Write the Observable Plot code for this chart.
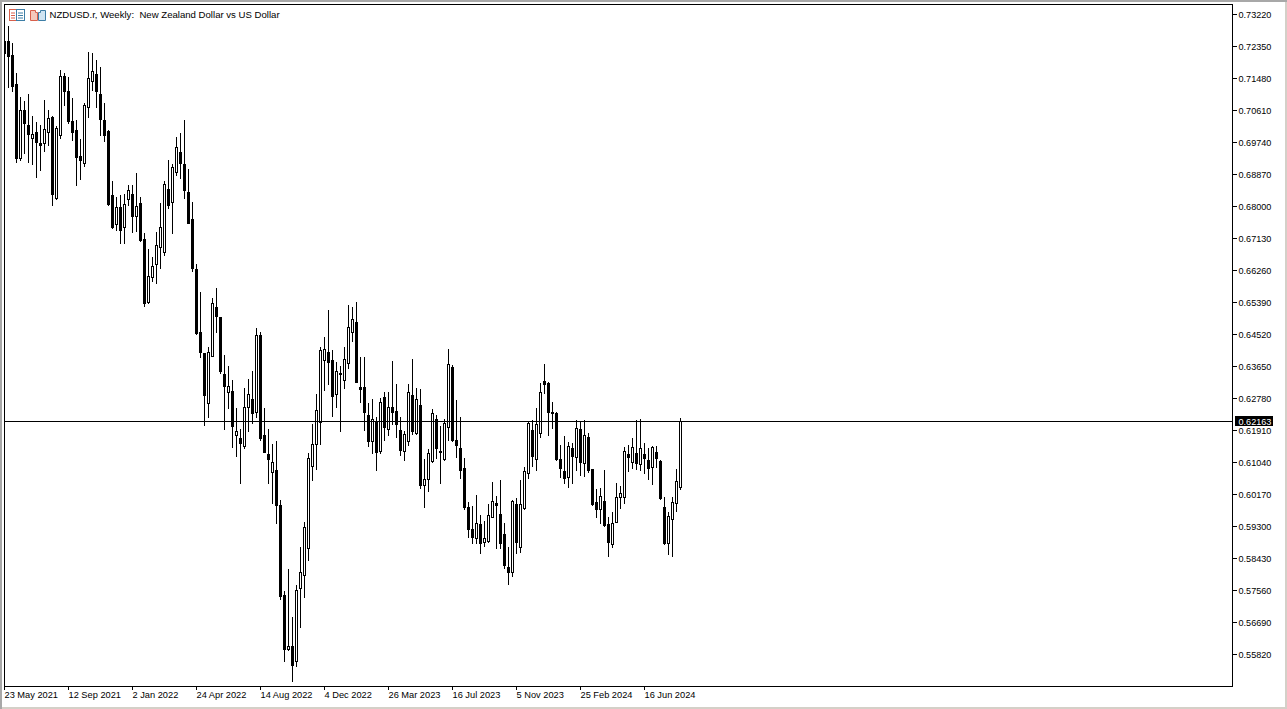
<!DOCTYPE html>
<html>
<head>
<meta charset="utf-8">
<script src="https://cdn.jsdelivr.net/npm/d3@7"></script>
<script src="https://cdn.jsdelivr.net/npm/@observablehq/plot@0.6"></script>
<style>
html,body{margin:0;padding:0;background:#fff;overflow:hidden}
#wrap{position:relative;width:1287px;height:709px}
#wrap>svg.chart{display:block}
#frameEdge{position:absolute;inset:0;pointer-events:none;box-shadow:inset 2px 2px 0 #a8a8a8,inset -2px -2px 0 #d4d0c8}
.icon{position:absolute;top:9px;width:16px;height:12px}
</style>
</head>
<body>
<div id="wrap"></div>
<script>
const symbolTitle = "NZDUSD.r, Weekly:  New Zealand Dollar vs US Dollar";
const lastPrice = 0.62163;
const weekLabels = ["23 May 2021","12 Sep 2021","2 Jan 2022","24 Apr 2022","14 Aug 2022","4 Dec 2022","26 Mar 2023","16 Jul 2023","5 Nov 2023","25 Feb 2024","16 Jun 2024"];
const weekTicks = [0,16,32,48,64,80,96,112,128,144,160];
const priceTicks = [0.7322,0.7235,0.7148,0.7061,0.6974,0.6887,0.68,0.6713,0.6626,0.6539,0.6452,0.6365,0.6278,0.6191,0.6104,0.6017,0.593,0.5843,0.5756,0.5669,0.5582];

// weekly prices in pips (1/10000)
const openPips = [7249,7249,7211,7132,6931,7061,7020,6985,7001,6971,
6971,7001,7042,6822,6993,7153,7113,7031,7007,6936,
6917,7069,7140,7159,7104,7034,7004,6830,6751,6797,
6743,6819,6833,6773,6808,6710,6539,6607,6642,6689,
6675,6846,6811,6892,6947,6914,6838,6765,6629,6457,
6400,6264,6392,6525,6498,6343,6294,6297,6177,6169,
6148,6254,6275,6240,6449,6177,6126,6077,6082,5987,
5742,5596,5604,5563,5761,5797,5870,6093,6153,6213,
6381,6403,6381,6289,6346,6327,6373,6457,6485,6308,
6308,6232,6161,6213,6134,6281,6194,6254,6243,6191,
6134,6161,6286,6183,6259,6041,6058,6107,6221,6134,
6112,6199,6362,6164,6142,6088,5982,5922,5897,5935,
5887,5889,5955,5993,5963,5908,5819,5805,5990,5873,
5979,6074,6191,6112,6183,6324,6319,6240,6237,6112,
6080,6063,6142,6118,6194,6101,6172,6085,5995,5976,
5998,5935,5881,5941,6009,6009,6126,6104,6128,6099,
6126,6109,6090,6131,6107,5982,5884,5949,5993,6036];
const closePips = [7216,7208,7126,6931,7061,7026,6996,6996,6974,6966,
7009,7039,6833,7012,7153,7113,7031,7001,6933,6925,
7075,7148,7167,7113,7037,6993,6805,6743,6797,6735,
6805,6844,6773,6800,6708,6536,6610,6637,6694,6743,
6860,6803,6906,6960,6917,6844,6754,6631,6455,6403,
6286,6403,6536,6501,6351,6311,6311,6202,6188,6156,
6254,6289,6237,6449,6169,6131,6112,6104,5987,5740,
5596,5604,5552,5756,5805,5927,6115,6153,6245,6408,
6411,6376,6283,6351,6343,6384,6471,6493,6321,6302,
6240,6161,6221,6131,6267,6199,6254,6240,6207,6137,
6180,6294,6188,6275,6041,6058,6128,6237,6142,6131,
6210,6370,6164,6150,6082,5982,5922,5900,5938,5884,
5897,5960,5998,5987,5884,5824,5805,5998,5887,5990,
6080,6210,6120,6207,6294,6316,6240,6237,6112,6088,
6061,6148,6120,6196,6104,6177,6082,5990,5976,6012,
5933,5887,5938,6009,6020,6134,6118,6145,6101,6142,
6115,6088,6145,6115,6006,5884,5957,5995,6052,6216];
const highPips = [7251,7289,7243,7162,7096,7085,7104,7045,7028,7020,
7088,7061,7045,7018,7170,7162,7151,7094,7034,6982,
7080,7219,7216,7197,7178,7080,7007,6868,6825,6830,
6833,6857,6857,6890,6825,6727,6683,6661,6729,6808,
6868,6925,6914,6988,6998,7034,6901,6811,6642,6566,
6400,6417,6550,6577,6498,6395,6365,6327,6251,6194,
6305,6330,6351,6468,6457,6251,6194,6153,6161,6001,
5753,5813,5683,5770,5873,5941,6128,6207,6289,6417,
6444,6517,6408,6376,6365,6417,6531,6525,6539,6389,
6389,6264,6275,6226,6278,6294,6294,6379,6316,6226,
6188,6316,6384,6305,6302,6112,6139,6248,6232,6202,
6221,6411,6368,6273,6226,6115,5995,5984,6014,5960,
5944,5990,6050,6012,6055,5938,5873,6001,6006,6055,
6090,6215,6218,6251,6319,6370,6321,6267,6240,6150,
6175,6158,6156,6218,6215,6218,6183,6085,6031,6033,
6082,5955,5968,6047,6039,6145,6150,6169,6218,6221,
6156,6142,6148,6148,6109,6009,5968,6009,6085,6224];
const lowPips = [7211,7124,7113,6920,6925,6944,6920,6914,6879,6898,
6950,6966,6803,6819,6985,7075,7026,6979,6857,6873,
6909,7042,7115,7069,6993,6977,6803,6740,6735,6699,
6699,6803,6729,6732,6705,6528,6536,6596,6591,6631,
6667,6795,6727,6884,6876,6822,6754,6623,6452,6389,
6205,6226,6392,6457,6346,6194,6251,6145,6120,6047,
6142,6188,6210,6226,6164,6131,6047,5993,5938,5732,
5563,5593,5508,5549,5655,5737,5838,6055,6085,6153,
6300,6316,6229,6254,6188,6305,6360,6433,6321,6267,
6191,6148,6128,6082,6128,6164,6177,6207,6172,6123,
6109,6150,6180,6180,6033,5982,6025,6104,6115,6047,
6109,6164,6161,6118,6061,5976,5900,5884,5884,5857,
5876,5887,5955,5870,5870,5816,5772,5794,5857,5859,
5976,6061,6093,6082,6172,6292,6177,6196,6109,6063,
6047,6036,6047,6082,6069,6066,6077,5987,5955,5938,
5930,5848,5873,5941,5979,5993,6080,6088,6085,6082,
6074,6058,6044,6090,6003,5881,5854,5848,5971,6031];

const weeks = d3.range(openPips.length);
const price = p => p / 10000;
const candles = weeks.map(i => ({
  week: i,
  top: price(Math.max(openPips[i], closePips[i])),
  bottom: price(Math.min(openPips[i], closePips[i])),
  up: closePips[i] > openPips[i],
  high: price(highPips[i]),
  low: price(lowPips[i])
}));
const rising = candles.filter(d => d.up);

const chart = Plot.plot({
  width: 1287,
  height: 709,
  marginLeft: 4,
  marginTop: 4,
  marginRight: 55,
  marginBottom: 23,
  style: {fontFamily: "'Liberation Sans', sans-serif", fontSize: "9.6px", color: "#000", background: "#fff"},
  x: {type: "linear", domain: [0, 307], range: [4, 1232]},
  y: {type: "linear", domain: [0.7322, 0.5582], range: [14, 654], round: true},
  marks: [
    Plot.ruleX(candles, {x: "week", y1: "high", y2: "low", insetBottom: -1, stroke: "#000", strokeWidth: 1, clip: "frame"}),
    Plot.ruleX(candles, {x: "week", y1: "top", y2: "bottom", insetBottom: -1, stroke: "#000", strokeWidth: 3, clip: "frame"}),
    Plot.ruleX(rising, {x: "week", y1: "top", y2: "bottom", insetTop: 1, stroke: "#fff", strokeWidth: 1}),
    Plot.ruleY([lastPrice], {stroke: "#000", strokeWidth: 1}),
    Plot.frame({stroke: "#000", strokeWidth: 1}),
    Plot.axisX({
      anchor: "bottom", ticks: weekTicks, label: null, tickSize: 4, tickPadding: 1,
      textAnchor: "start", stroke: "#000", fontSize: 9.25,
      tickFormat: i => weekLabels[weekTicks.indexOf(i)]
    }),
    Plot.axisY({
      anchor: "right", ticks: priceTicks, label: null, tickSize: 4, tickFormat: () => "", stroke: "#000"
    }),
    Plot.axisY({
      anchor: "right", ticks: priceTicks, label: null, tickSize: 0, tickPadding: 6, dy: 1,
      fontSize: 9.1, tickFormat: d3.format(".5f")
    }),
    Plot.rect([lastPrice], {x1: 307.75, x2: 317.25, y1: d => d + 0.0014, y2: d => d - 0.0014, fill: "#000"}),
    Plot.text([lastPrice], {
      x: 308.5, y: d => d, dy: 1, text: d3.format(".5f"), fill: "#fff", textAnchor: "start", fontSize: 9.1
    }),
    Plot.text([symbolTitle], {
      frameAnchor: "top-left", dx: 45, dy: 7, lineAnchor: "top", fill: "#000", textAnchor: "start"
    })
  ]
});
chart.classList.add("chart");
const wrap = document.getElementById("wrap");
wrap.appendChild(chart);
wrap.insertAdjacentHTML("beforeend", `
<div id="frameEdge"></div>
<svg class="icon" style="left:9px" viewBox="0 0 16 12"><rect x=".5" y=".5" width="7" height="11" fill="#fff" stroke="#d8604c"/><rect x="7.5" y=".5" width="8" height="11" fill="#fff" stroke="#3d7ea6"/><path d="M2 4h4M2 6.5h4M2 9h4" stroke="#d8604c"/><path d="M9 4h5M9 6.5h5M9 9h5" stroke="#3d7ea6"/></svg>
<svg class="icon" style="left:30px" viewBox="0 0 16 12"><path d="M.5 1.5h5v2h2v8h-7z" fill="#f4c8bc" stroke="#d8604c"/><path d="M8.5 3.5h2v-2h5v10h-7z" fill="#cfe4f2" stroke="#3d7ea6"/></svg>`);
</script>
</body>
</html>
